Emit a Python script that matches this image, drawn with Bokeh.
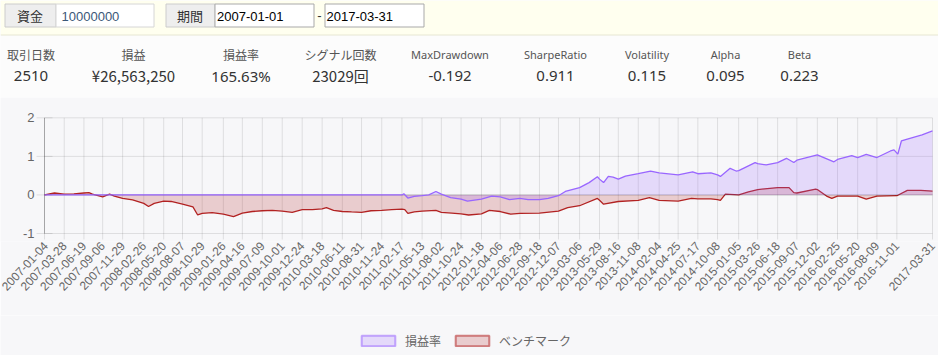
import math
import pandas as pd
from bokeh.plotting import figure
from bokeh.layouts import column
from bokeh.models import (Range1d, FixedTicker, DatetimeTickFormatter, Legend,
                          LegendItem, ColumnDataSource)
from bokeh.core.properties import value
from bokeh.embed import file_html
from bokeh.resources import INLINE

# ---------------- data ----------------
capital = "10000000"
period_start = "2007-01-01"
period_end = "2017-03-31"
input_labels = ["資金", "期間"]

stat_labels = ["取引日数", "損益", "損益率", "シグナル回数", "MaxDrawdown",
               "SharpeRatio", "Volatility", "Alpha", "Beta"]
stat_values = ["2510", "¥26,563,250", "165.63%", "23029回", "-0.192",
               "0.911", "0.115", "0.095", "0.223"]

series_names = ["損益率", "ベンチマーク"]

tick_dates = ["2007-01-04", "2007-03-28", "2007-06-19", "2007-09-06", "2007-11-29",
              "2008-02-26", "2008-05-20", "2008-08-07", "2008-10-29", "2009-01-26",
              "2009-04-16", "2009-07-09", "2009-10-01", "2009-12-24", "2010-03-18",
              "2010-06-11", "2010-08-31", "2010-11-24", "2011-02-17", "2011-05-13",
              "2011-08-02", "2011-10-24", "2012-01-18", "2012-04-06", "2012-06-28",
              "2012-09-18", "2012-12-07", "2013-03-06", "2013-05-29", "2013-08-16",
              "2013-11-08", "2014-02-04", "2014-04-25", "2014-07-17", "2014-10-08",
              "2015-01-05", "2015-03-26", "2015-06-18", "2015-09-07", "2015-12-02",
              "2016-02-25", "2016-05-20", "2016-08-09", "2016-11-01", "2017-03-31"]

y_ticks = [-1, 0, 1, 2]

bench_dates = ["2007-01-04", "2007-02-15", "2007-03-28", "2007-05-08", "2007-06-19",
               "2007-07-10", "2007-07-25", "2007-09-06", "2007-10-05", "2007-10-25",
               "2007-11-29", "2008-01-10", "2008-02-26", "2008-03-17", "2008-04-10",
               "2008-05-20", "2008-06-20", "2008-08-07", "2008-09-20", "2008-10-10",
               "2008-10-29", "2008-12-10", "2009-01-26", "2009-03-10", "2009-04-16",
               "2009-05-28", "2009-07-09", "2009-08-20", "2009-10-01", "2009-11-12",
               "2009-12-24", "2010-02-05", "2010-03-18", "2010-04-05", "2010-05-05",
               "2010-06-11", "2010-07-20", "2010-08-31", "2010-10-10", "2010-11-24",
               "2011-01-05", "2011-02-17", "2011-03-01", "2011-03-14", "2011-04-10",
               "2011-05-13", "2011-07-10", "2011-08-02", "2011-09-15", "2011-10-24",
               "2011-11-25", "2012-01-18", "2012-02-20", "2012-04-06", "2012-05-20",
               "2012-06-28", "2012-09-18", "2012-12-07", "2013-01-15", "2013-03-06",
               "2013-05-20", "2013-05-29", "2013-06-15", "2013-08-16", "2013-11-08",
               "2013-12-25", "2014-02-04", "2014-04-25", "2014-06-20", "2014-07-17",
               "2014-09-10", "2014-10-08", "2014-10-20", "2014-11-10", "2015-01-05",
               "2015-02-15", "2015-03-26", "2015-06-18", "2015-08-05", "2015-08-25",
               "2015-09-07", "2015-11-25", "2015-12-02", "2016-01-10", "2016-02-01",
               "2016-02-25", "2016-05-20", "2016-06-25", "2016-08-09", "2016-11-01",
               "2016-12-15", "2017-02-10", "2017-03-31"]
bench_values = [0.00, 0.05, 0.02, 0.03, 0.05,
                0.06, 0.02, -0.05, 0.02, -0.03,
                -0.09, -0.13, -0.22, -0.30, -0.22,
                -0.16, -0.17, -0.24, -0.31, -0.52,
                -0.48, -0.46, -0.50, -0.56, -0.47,
                -0.43, -0.41, -0.40, -0.42, -0.45,
                -0.38, -0.38, -0.36, -0.33, -0.40,
                -0.43, -0.44, -0.45, -0.41, -0.40,
                -0.38, -0.37, -0.38, -0.48, -0.44,
                -0.42, -0.40, -0.45, -0.47, -0.49,
                -0.52, -0.49, -0.40, -0.43, -0.50,
                -0.48, -0.47, -0.42, -0.33, -0.28,
                -0.09, -0.14, -0.24, -0.17, -0.14,
                -0.07, -0.14, -0.16, -0.09, -0.10,
                -0.10, -0.12, -0.14, 0.02, 0.00,
                0.08, 0.14, 0.19, 0.19, 0.06,
                0.05, 0.15, 0.14, -0.03, -0.09,
                -0.03, -0.03, -0.11, -0.03, -0.02,
                0.12, 0.12, 0.10]

strat_dates = ["2007-01-04", "2011-02-17", "2011-02-25", "2011-03-14", "2011-04-10",
               "2011-05-13", "2011-06-10", "2011-07-10", "2011-08-02", "2011-09-10",
               "2011-10-24", "2011-11-20", "2012-01-18", "2012-03-01", "2012-04-06",
               "2012-05-15", "2012-06-28", "2012-08-01", "2012-09-18", "2012-10-25",
               "2012-12-07", "2013-01-05", "2013-03-06", "2013-04-15", "2013-05-20",
               "2013-05-29", "2013-06-15", "2013-07-05", "2013-07-25", "2013-08-16",
               "2013-09-15", "2013-11-08", "2013-12-30", "2014-02-04", "2014-04-25",
               "2014-06-25", "2014-07-17", "2014-09-10", "2014-10-08", "2014-10-20",
               "2014-11-30", "2014-12-25", "2015-01-05", "2015-03-15", "2015-03-26",
               "2015-05-01", "2015-06-18", "2015-07-25", "2015-08-25", "2015-09-07",
               "2015-12-02", "2016-02-10", "2016-02-25", "2016-04-25", "2016-05-20",
               "2016-06-25", "2016-08-09", "2016-10-05", "2016-10-20", "2016-11-05",
               "2016-11-20", "2016-12-15", "2017-02-15", "2017-03-31"]
strat_values = [0.00, 0.00, 0.03, -0.08, -0.04,
                -0.02, 0.00, 0.09, 0.02, -0.07,
                -0.11, -0.16, -0.11, -0.03, -0.05,
                -0.12, -0.09, -0.12, -0.12, -0.09,
                -0.02, 0.09, 0.19, 0.32, 0.47,
                0.41, 0.32, 0.48, 0.46, 0.41,
                0.49, 0.55, 0.62, 0.57, 0.52,
                0.60, 0.55, 0.57, 0.52, 0.48,
                0.69, 0.62, 0.63, 0.84, 0.81,
                0.78, 0.84, 0.95, 0.84, 0.90,
                1.04, 0.86, 0.92, 1.02, 0.97,
                1.05, 0.97, 1.14, 1.17, 1.06,
                1.40, 1.45, 1.56, 1.66]

# ---------------- styles ----------------
PURPLE = "rgb(153,102,255)"
PURPLE_FILL = "rgba(153,102,255,0.2)"
RED = "rgb(178,34,34)"
RED_FILL = "rgba(178,34,34,0.2)"
GRID = "rgba(0,0,0,0.1)"
ZERO = "rgba(0,0,0,0.25)"
JP = "Noto Sans CJK JP"
LAT = "Noto Sans"
BG = "#f7f7f9"
W = 938
NAN = float("nan")

# ---------------- header ----------------
hdr = figure(width=W, height=97, x_range=Range1d(0, W), y_range=Range1d(97, 0),
             toolbar_location=None, output_backend="svg", min_border=0,
             min_border_left=0, min_border_right=0, min_border_top=0,
             min_border_bottom=0, x_axis_location=None, y_axis_location=None)
hdr.grid.visible = False
hdr.outline_line_color = None
hdr.background_fill_color = "#fcfcfc"
hdr.border_fill_color = "#fcfcfc"

hdr.quad(left=[0], right=[W], top=[0], bottom=[34.5], fill_color="#ffffef", line_color=None)
hdr.segment(x0=[0], y0=[34.5], x1=[W], y1=[34.5], line_color="#e6e6d2", line_width=1)

hdr.quad(left=[4.5, 165.5], right=[55.5, 214.5], top=[3.5, 3.5], bottom=[26.5, 26.5],
         fill_color="#eeeeee", line_color="#cccccc")
hdr.quad(left=[55.5], right=[153.5], top=[3.5], bottom=[26.5],
         fill_color="#ffffff", line_color="#d6d6d6")
hdr.quad(left=[214.5, 324.5], right=[313.5, 423.5], top=[3.5, 3.5], bottom=[26.5, 26.5],
         fill_color="#ffffff", line_color="#a9a9a9")

hdr.text(x=[29.5, 189.5], y=[15, 15], text=input_labels, text_font=value(JP),
         text_font_size="13px", text_color="#333333", text_align="center",
         text_baseline="middle")
hdr.text(x=[61], y=[15.5], text=[capital], text_font=value("Liberation Sans"),
         text_font_size="13px", text_color="#3b5878", text_align="left",
         text_baseline="middle")
hdr.text(x=[216.5, 326], y=[15.5, 15.5], text=[period_start, period_end],
         text_font=value("Liberation Sans"), text_font_size="13px",
         text_color="#000000", text_align="left", text_baseline="middle")
hdr.text(x=[319], y=[15], text=["-"], text_font=value("Liberation Sans"),
         text_font_size="13px", text_color="#333333", text_align="center",
         text_baseline="middle")

stat_x = [30.5, 133, 240.5, 340, 449.5, 555, 646.5, 725, 799]
jp_idx = [i for i, s in enumerate(stat_labels) if not s.isascii()]
lat_idx = [i for i, s in enumerate(stat_labels) if s.isascii()]
hdr.text(x=[stat_x[i] for i in jp_idx], y=[54] * len(jp_idx),
         text=[stat_labels[i] for i in jp_idx], text_font=value(JP),
         text_font_size="12px", text_color="#555555", text_align="center",
         text_baseline="middle")
hdr.text(x=[stat_x[i] for i in lat_idx], y=[54] * len(lat_idx),
         text=[stat_labels[i] for i in lat_idx], text_font=value(LAT),
         text_font_size="11px", text_color="#555555", text_align="center",
         text_baseline="middle")
vj = [i for i, s in enumerate(stat_values) if not s.isascii()]
vl = [i for i, s in enumerate(stat_values) if s.isascii()]
hdr.text(x=[stat_x[i] for i in vl], y=[75] * len(vl),
         text=[stat_values[i] for i in vl], text_font=value(LAT),
         text_font_size="15px", text_color="#333333", text_align="center",
         text_baseline="middle")
hdr.text(x=[stat_x[i] for i in vj], y=[75] * len(vj),
         text=[stat_values[i] for i in vj], text_font=value(JP),
         text_font_size="15px", text_color="#333333", text_align="center",
         text_baseline="middle")

# ---------------- chart ----------------
tick_ts = pd.to_datetime(tick_dates)
T0, T1 = tick_ts[0], tick_ts[-1]
span = T1 - T0
LEFT_PX, RIGHT_PX = 44, 6
PLOT_PX = W - LEFT_PX - RIGHT_PX
x_start = T0 - span * (LEFT_PX / PLOT_PX)
x_end = T1 + span * (RIGHT_PX / PLOT_PX)
UNIT = 38.5          # px per y unit
TOP_PAD = 20.3       # px above y=2
BOT_PAD = 8.0        # px below y=-1 inside the frame
y_end = 2 + TOP_PAD / UNIT
y_start = -1 - BOT_PAD / UNIT
FRAME_H = round(TOP_PAD + 3 * UNIT + BOT_PAD)

p = figure(width=W, height=218, x_axis_type="datetime",
           x_range=Range1d(x_start, x_end), y_range=Range1d(y_start, y_end),
           toolbar_location=None, output_backend="svg",
           min_border=0, min_border_left=0, min_border_right=0, min_border_top=0,
           min_border_bottom=218 - FRAME_H, y_axis_location=None)
p.background_fill_color = BG
p.border_fill_color = BG
p.outline_line_color = None
p.xgrid.visible = False
p.ygrid.visible = False

# vertical grid lines, extending 6px below the plotting area as tick marks
tick_low = -1 - 6 / UNIT
p.segment(x0=tick_ts, x1=tick_ts, y0=[tick_low] * len(tick_ts), y1=[2] * len(tick_ts),
          line_color=GRID, line_width=1)
yt_other = [t for t in y_ticks if t != 0]
p.segment(x0=[T0] * len(yt_other), x1=[T1] * len(yt_other), y0=yt_other, y1=yt_other,
          line_color=GRID, line_width=1)
# y tick marks (extend to the left of the axis)
p.scatter(x=[T0] * len(y_ticks), y=y_ticks, marker="dash", size=16,
          line_color=GRID, line_width=1)

bench_src = ColumnDataSource(dict(x=pd.to_datetime(bench_dates), y=bench_values))
strat_src = ColumnDataSource(dict(x=pd.to_datetime(strat_dates), y=strat_values))

p.varea(x="x", y1=0, y2="y", source=bench_src, fill_color=RED_FILL)
p.line(x="x", y="y", source=bench_src, line_color=RED, line_width=1.3)
# zero line and y-axis line (darker)
p.segment(x0=[T0], x1=[T1], y0=[0], y1=[0], line_color=ZERO, line_width=1)
p.segment(x0=[T0], x1=[T0], y0=[-1], y1=[2], line_color=ZERO, line_width=1)
p.varea(x="x", y1=0, y2="y", source=strat_src, fill_color=PURPLE_FILL)
p.line(x="x", y="y", source=strat_src, line_color=PURPLE, line_width=1.3)

# y tick labels
p.text(x=[T0] * len(y_ticks), y=y_ticks, text=[str(t) for t in y_ticks],
       x_offset=-10, text_align="right", text_baseline="middle",
       text_font=value("Liberation Sans"), text_font_size="13px",
       text_color="#666666")

# x axis (sits at the frame bottom, just under the tick marks)
p.xaxis.ticker = FixedTicker(ticks=[t.value / 1e6 for t in tick_ts])
fmt = "%Y-%m-%d"
p.xaxis.formatter = DatetimeTickFormatter(
    microseconds=fmt, milliseconds=fmt, seconds=fmt, minsec=fmt, minutes=fmt,
    hourmin=fmt, hours=fmt, days=fmt, months=fmt, years=fmt)
p.xaxis.major_label_orientation = math.radians(47)
p.xaxis.major_label_text_font = "Liberation Sans"
p.xaxis.major_label_text_font_size = "12px"
p.xaxis.major_label_text_color = "#666666"
p.xaxis.axis_line_color = None
p.xaxis.major_tick_out = 0
p.xaxis.major_tick_in = 0
p.xaxis.major_tick_line_color = None
p.xaxis.minor_tick_line_color = None
p.xaxis.major_label_standoff = 2

# ---------------- legend ----------------
lg = figure(width=W, height=40, x_range=Range1d(0, W), y_range=Range1d(0, 40),
            toolbar_location=None, output_backend="svg", min_border=0,
            min_border_left=0, min_border_right=0, min_border_top=0,
            min_border_bottom=0, x_axis_location=None, y_axis_location=None)
lg.grid.visible = False
lg.outline_line_color = None
lg.background_fill_color = BG
lg.border_fill_color = BG
sw_s = lg.quad(left=[NAN], right=[NAN], top=[NAN], bottom=[NAN], fill_color=PURPLE_FILL,
               line_color="rgba(153,102,255,0.55)", line_width=2)
sw_b = lg.quad(left=[NAN], right=[NAN], top=[NAN], bottom=[NAN], fill_color=RED_FILL,
               line_color="rgba(178,34,34,0.55)", line_width=2)
legend = Legend(items=[LegendItem(label=series_names[0], renderers=[sw_s], index=0),
                       LegendItem(label=series_names[1], renderers=[sw_b], index=0)],
                location=(357, 6), orientation="horizontal",
                glyph_width=42, glyph_height=13, label_standoff=6, spacing=10,
                padding=0, margin=0, label_height=14,
                border_line_color=None, background_fill_alpha=0,
                label_text_font=JP, label_text_font_size="12px",
                label_text_color="#666666")
lg.add_layout(legend)

layout = column(hdr, p, lg, spacing=0)
open("out.html", "w").write(file_html(layout, INLINE))
